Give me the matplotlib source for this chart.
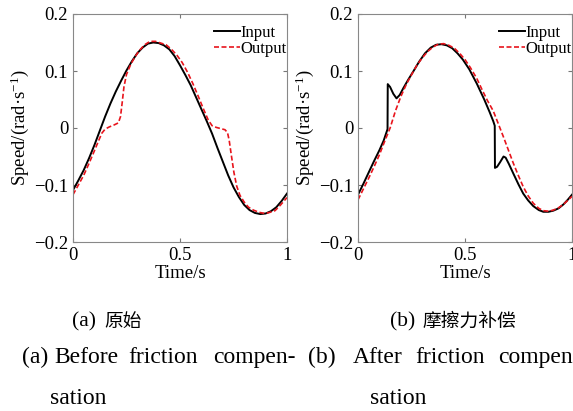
import matplotlib
matplotlib.use("Agg")
import matplotlib.pyplot as plt

plt.rcParams["font.family"] = ["Liberation Serif", "Noto Sans CJK SC"]
plt.rcParams["mathtext.fontset"] = "custom"
plt.rcParams["mathtext.rm"] = "Liberation Serif"
plt.rcParams["mathtext.it"] = "Liberation Serif:italic"

# (a) before friction compensation
t_in_a = [0.0, 0.025, 0.05, 0.075, 0.1, 0.125, 0.15, 0.175, 0.2, 0.225, 0.25, 0.275,
          0.3, 0.325, 0.35, 0.375, 0.4, 0.425, 0.45, 0.475, 0.5, 0.525, 0.55, 0.575,
          0.6, 0.625, 0.65, 0.675, 0.7, 0.725, 0.75, 0.775, 0.8, 0.825, 0.85, 0.875,
          0.9, 0.925, 0.95, 0.975, 1.0]
v_in_a = [-0.109, -0.092, -0.074, -0.053, -0.030, -0.005, 0.020, 0.043, 0.064, 0.083,
          0.101, 0.117, 0.131, 0.141, 0.148, 0.150, 0.149, 0.145, 0.138, 0.126, 0.110,
          0.093, 0.075, 0.054, 0.033, 0.012, -0.010, -0.035, -0.059, -0.083, -0.104,
          -0.121, -0.135, -0.144, -0.149, -0.151, -0.150, -0.146, -0.139, -0.128, -0.115]
t_out_a = [0.0, 0.025, 0.05, 0.075, 0.1, 0.12, 0.135, 0.15, 0.17, 0.19, 0.212, 0.222,
           0.23, 0.238, 0.25, 0.27, 0.29, 0.31, 0.335, 0.36, 0.385, 0.41, 0.435, 0.46,
           0.485, 0.51, 0.535, 0.56, 0.586, 0.61, 0.632, 0.65, 0.67, 0.69, 0.71, 0.722,
           0.73, 0.74, 0.752, 0.765, 0.78, 0.8, 0.82, 0.843, 0.87, 0.897, 0.92, 0.944,
           0.97, 1.0]
v_out_a = [-0.117, -0.100, -0.083, -0.062, -0.040, -0.022, -0.009, -0.002, 0.002, 0.005,
           0.009, 0.020, 0.045, 0.072, 0.094, 0.112, 0.125, 0.136, 0.146, 0.152, 0.152,
           0.149, 0.146, 0.138, 0.128, 0.115, 0.098, 0.078, 0.055, 0.033, 0.014, 0.004,
           0.001, -0.001, -0.003, -0.008, -0.022, -0.048, -0.078, -0.102, -0.118, -0.130,
           -0.139, -0.144, -0.148, -0.150, -0.148, -0.145, -0.135, -0.122]

# (b) after friction compensation
t_in_b = [0.0, 0.025, 0.05, 0.075, 0.1, 0.12, 0.138, 0.139, 0.15, 0.165, 0.18, 0.195,
          0.212, 0.235, 0.258, 0.285, 0.313, 0.34, 0.365, 0.39, 0.415, 0.44, 0.465,
          0.49, 0.52, 0.555, 0.59, 0.615, 0.632, 0.639, 0.640, 0.65, 0.664, 0.68, 0.69,
          0.705, 0.726, 0.75, 0.772, 0.795, 0.819, 0.845, 0.866, 0.89, 0.913, 0.937,
          0.96, 0.98, 1.0]
v_in_b = [-0.117, -0.098, -0.078, -0.058, -0.039, -0.022, -0.002, 0.077, 0.072, 0.060,
          0.052, 0.058, 0.070, 0.085, 0.099, 0.116, 0.131, 0.141, 0.146, 0.147, 0.145,
          0.140, 0.131, 0.120, 0.103, 0.078, 0.050, 0.028, 0.012, 0.004, -0.070, -0.068,
          -0.060, -0.050, -0.052, -0.063, -0.080, -0.099, -0.115, -0.127, -0.137, -0.144,
          -0.147, -0.147, -0.145, -0.141, -0.134, -0.126, -0.117]
t_out_b = [0.0, 0.025, 0.05, 0.075, 0.1, 0.125, 0.15, 0.175, 0.2, 0.225, 0.251, 0.275,
           0.3, 0.325, 0.35, 0.375, 0.4, 0.425, 0.45, 0.475, 0.5, 0.525, 0.555, 0.58,
           0.605, 0.632, 0.655, 0.679, 0.7, 0.726, 0.75, 0.772, 0.795, 0.819, 0.845,
           0.866, 0.89, 0.913, 0.937, 0.96, 0.98, 1.0]
v_out_b = [-0.126, -0.107, -0.088, -0.068, -0.047, -0.023, 0.000, 0.030, 0.055, 0.076,
           0.094, 0.110, 0.123, 0.134, 0.142, 0.147, 0.148, 0.145, 0.140, 0.131, 0.120,
           0.106, 0.087, 0.067, 0.048, 0.030, 0.008, -0.015, -0.036, -0.062, -0.084,
           -0.103, -0.119, -0.132, -0.141, -0.145, -0.146, -0.144, -0.140, -0.134,
           -0.127, -0.120]

yticks = [-0.2, -0.1, 0, 0.1, 0.2]
ytick_labels = ["\u22120.2", "\u22120.1", "0", "0.1", "0.2"]
xticks = [0, 0.5, 1]
xtick_labels = ["0", "0.5", "1"]

W, H = 573, 411
fig = plt.figure(figsize=(W / 100, H / 100), dpi=100)

panels = [
    (73, t_in_a, v_in_a, t_out_a, v_out_a),
    (358, t_in_b, v_in_b, t_out_b, v_out_b),
]
for x0, ti, vi, to, vo in panels:
    ax = fig.add_axes([x0 / W, (H - 242) / H, 214 / W, 228 / H])
    ax.plot(ti, vi, color="black", lw=1.4, label="Input")
    ax.plot(to, vo, color="#e8141c", lw=1.2, ls=(0, (3, 1.5)), label="Output")
    ax.set_xlim(0, 1)
    ax.set_ylim(-0.2, 0.2)
    ax.set_xticks(xticks, xtick_labels)
    ax.set_yticks(yticks, ytick_labels)
    ax.tick_params(direction="in", length=3, top=True, right=True,
                   labelsize=13.5, pad=3.5, color="#777777")
    for s in ax.spines.values():
        s.set_color("#888888")
        s.set_linewidth(0.8)
    ax.set_xlabel("Time/s", fontsize=13.5, labelpad=0.5)
    ax.set_ylabel("Speed/(rad\u00b7s$^{-1}$)", fontsize=13.5, labelpad=2)
    ax.legend(loc="upper right", bbox_to_anchor=(1.014, 0.967), frameon=False,
              fontsize=12, handlelength=1.6, handletextpad=0.0, borderaxespad=0.0,
              labelspacing=0.0, borderpad=0.2)

# caption pieces: (text, left x px, centre y px, size)
captions = [
    ("(a)", 72, 322, 15.5), ("原始", 104, 322, 13.5),
    ("(b)", 390, 322, 15.5), ("摩擦力补偿", 423, 322, 13.5),
    ("(a)", 22, 357, 17), ("Before", 54, 357, 17), ("friction", 128, 357, 17),
    ("compen-", 213, 357, 17),
    ("(b)", 308, 357, 17), ("After", 353, 357, 17), ("friction", 415, 357, 17),
    ("compen", 498, 357, 17),
    ("sation", 50, 398, 17), ("sation", 370, 398, 17),
]
for txt, x, y, size in captions:
    fig.text(x / W, 1 - y / H, txt, ha="left", va="center", fontsize=size)

fig.savefig("out.png", dpi=100)
